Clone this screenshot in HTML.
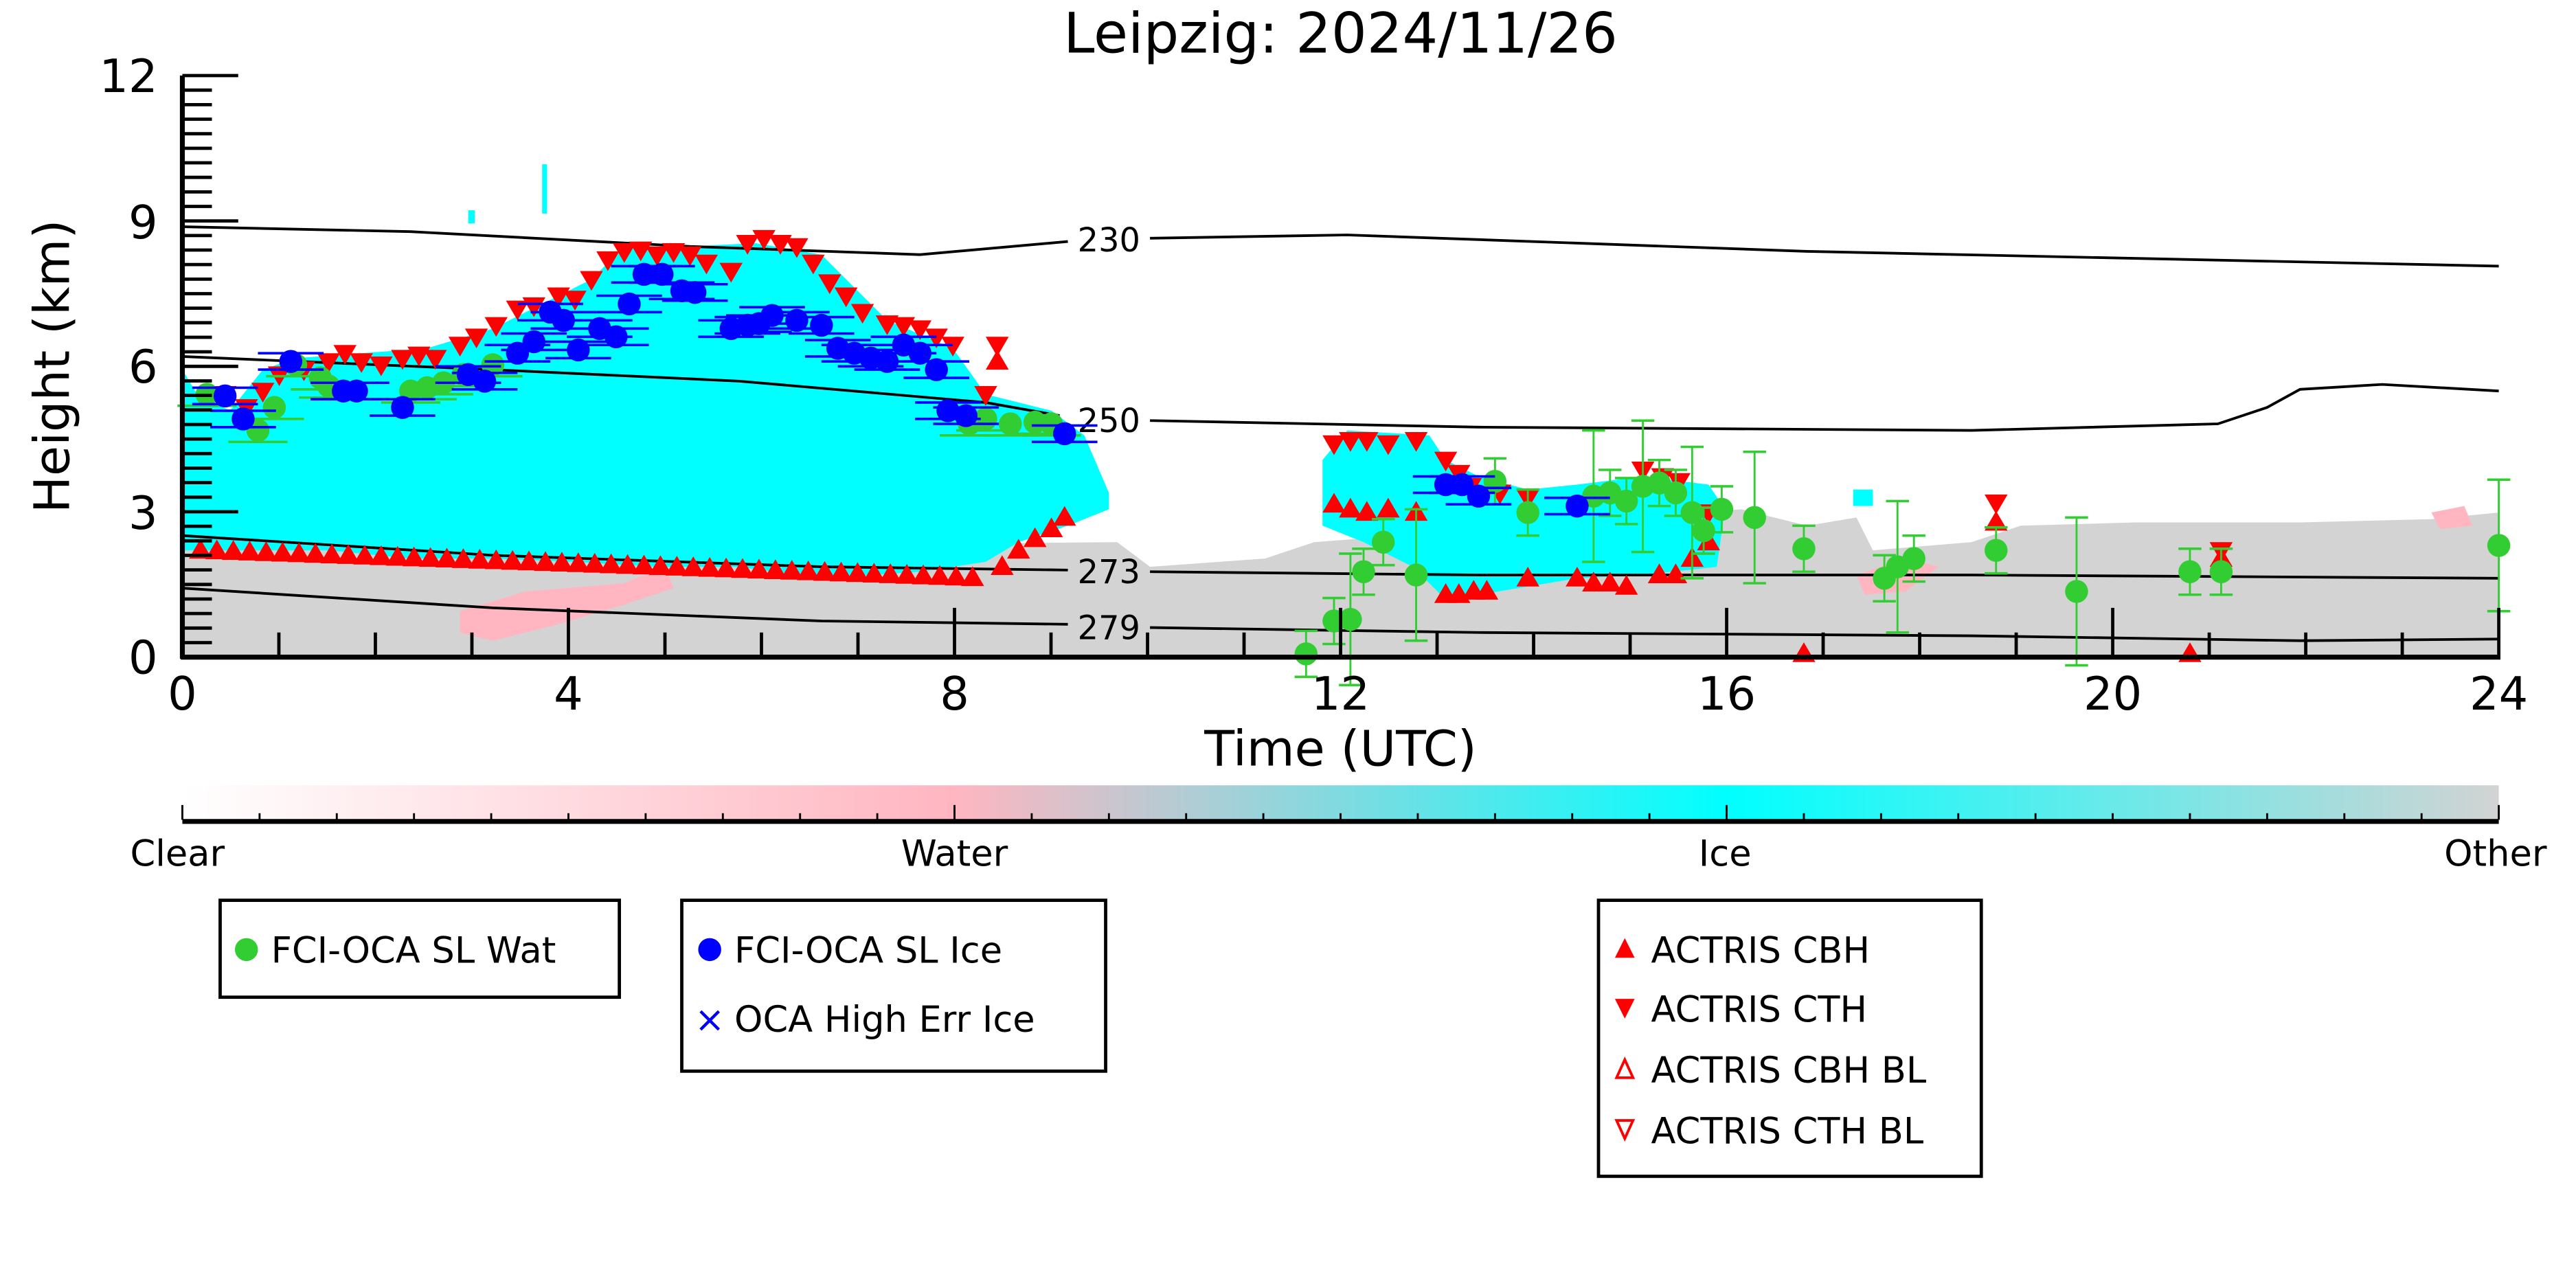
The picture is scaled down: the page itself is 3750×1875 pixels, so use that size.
<!DOCTYPE html>
<html><head><meta charset="utf-8"><style>
html,body{margin:0;padding:0;background:#fff;width:3750px;height:1875px;overflow:hidden}
svg text{font-family:"DejaVu Sans","Liberation Sans",sans-serif}
</style></head><body>
<svg id="s" width="3750" height="1875" viewBox="0 0 1568 784" xmlns="http://www.w3.org/2000/svg">
<defs>
<linearGradient id="cb" x1="0" x2="1" y1="0" y2="0">
<stop offset="0" stop-color="#ffffff"/>
<stop offset="0.333" stop-color="#ffb6c1"/>
<stop offset="0.667" stop-color="#00ffff"/>
<stop offset="1" stop-color="#d3d3d3"/>
</linearGradient>
</defs>
<rect width="1568" height="784" fill="#fff"/>
<text x="816" y="32" font-size="34" text-anchor="middle">Leipzig: 2024/11/26</text>
<polygon fill="#d3d3d3" points="111,335 680,330 700,345 770,340 800,330 1060,310 1100,320 1130,315 1140,335 1200,330 1230,320 1300,318 1400,318 1480,316 1521,312 1521,400 111,400"/>
<polygon fill="#ffb6c1" points="280,372 320,360 380,355 405,345 410,358 380,368 340,380 300,390 280,385"/>
<polygon fill="#ffb6c1" points="1130,350 1160,340 1180,345 1160,360 1135,362"/>
<polygon fill="#ffb6c1" points="870,330 900,330 905,350 880,355"/>
<polygon fill="#ffb6c1" points="1480,312 1500,308 1505,320 1485,322"/>
<polygon fill="#00ffff" points="111,225 120,240 140,250 160,225 180,218 220,215 260,212 300,200 330,185 360,170 380,150 420,150 460,148 500,155 540,195 580,212 600,240 640,250 660,265 675,300 675,310 650,320 620,330 600,342 560,348 500,352 450,345 400,345 350,342 300,340 250,340 200,335 150,335 111,335"/>
<polygon fill="#00ffff" points="805,280 820,262 870,265 880,280 900,290 930,298 960,295 1000,290 1040,295 1050,310 1045,345 1000,350 960,352 900,362 880,365 860,345 830,330 805,320"/>
<rect x="1128" y="298" width="12" height="10" fill="#00ffff"/>
<rect x="330" y="100" width="3" height="30" fill="#00ffff"/>
<rect x="285" y="128" width="4" height="8" fill="#00ffff"/>
<g fill="none" stroke="#000" stroke-width="1.6">
<polyline points="111,138 250,141 420,150 560,155 650,147"/>
<polyline points="700,145 820,143 1100,153 1521,162"/>
<polyline points="111,217 300,225 450,232 600,245 645,253"/>
<polyline points="700,256 900,260 1200,262 1350,258 1380,248 1400,237 1450,234 1521,238"/>
<polyline points="111,326 300,338 500,345 650,347"/>
<polyline points="700,348 900,350 1200,350 1521,352"/>
<polyline points="111,358 300,370 500,378 650,380"/>
<polyline points="700,382 900,385 1200,387 1400,390 1521,389"/>
</g>
<g font-size="20" text-anchor="middle">
<text x="675" y="153">230</text><text x="675" y="263">250</text>
<text x="675" y="355">273</text><text x="675" y="389">279</text>
</g>
<g id="m"></g>
<g stroke="#000">
<line x1="111" y1="46" x2="111" y2="401" stroke-width="3"/>
<line x1="110" y1="400" x2="1522" y2="400" stroke-width="3"/>
<g id="ticks" stroke-width="2"></g>
</g>
<g font-size="28" text-anchor="end">
<text x="96" y="56">12</text><text x="96" y="145">9</text><text x="96" y="233">6</text><text x="96" y="322">3</text><text x="96" y="410">0</text>
</g>
<g font-size="28" text-anchor="middle">
<text x="111" y="432">0</text><text x="346" y="432">4</text><text x="581" y="432">8</text><text x="816" y="432">12</text><text x="1051" y="432">16</text><text x="1286" y="432">20</text><text x="1521" y="432">24</text>
</g>
<text x="816" y="466" font-size="30" text-anchor="middle">Time (UTC)</text>
<text transform="translate(42,223) rotate(-90)" font-size="30" text-anchor="middle">Height (km)</text>
<rect x="111" y="478" width="1410" height="21" fill="url(#cb)"/>
<line x1="111" y1="500" x2="1521" y2="500" stroke="#000" stroke-width="3"/>
<g id="cbt" stroke="#000" stroke-width="1.2"></g>
<g font-size="22" text-anchor="middle">
<text x="108" y="527">Clear</text><text x="581" y="527">Water</text><text x="1050" y="527">Ice</text><text x="1519" y="527">Other</text>
</g>
<g fill="#fff" stroke="#000" stroke-width="2">
<rect x="134" y="548" width="243" height="59"/>
<rect x="415" y="548" width="258" height="104"/>
<rect x="973" y="548" width="233" height="168"/>
</g>
<g font-size="22">
<circle cx="150" cy="578" r="7" fill="#32cd32"/><text x="165" y="586">FCI-OCA SL Wat</text>
<circle cx="432" cy="578" r="7" fill="#0000ff"/><text x="447" y="586">FCI-OCA SL Ice</text>
<text x="432" y="628" fill="#0000ff" text-anchor="middle" font-size="22">×</text><text x="447" y="628">OCA High Err Ice</text>
<polygon points="989,571 995,583 983,583" fill="#f00"/><text x="1005" y="586">ACTRIS CBH</text>
<polygon points="983,608 995,608 989,620" fill="#f00"/><text x="1005" y="622">ACTRIS CTH</text>
<polygon points="989,645 994,656 984,656" fill="none" stroke="#f00" stroke-width="1.6"/><text x="1005" y="659">ACTRIS CBH BL</text>
<polygon points="984,682 994,682 989,693" fill="none" stroke="#f00" stroke-width="1.6"/><text x="1005" y="696">ACTRIS CTH BL</text>
</g>
</svg>
<script>
(function(){
var NS="http://www.w3.org/2000/svg";
function el(p,t,a){var e=document.createElementNS(NS,t);for(var k in a)e.setAttribute(k,a[k]);p.appendChild(e);return e;}
var T=document.getElementById("ticks");
for(var i=0;i<=40;i++){var y=400-i*8.85;var maj=(i%10==0);el(T,"line",{x1:111,x2:111+(maj?34:18),y1:y,y2:y});}
for(var h=1;h<=24;h++){var x=111+h*58.75;var maj=(h%4==0);el(T,"line",{x1:x,x2:x,y1:400,y2:400-(maj?30:15)});}
var C=document.getElementById("cbt");
for(var i=0;i<=30;i++){var x=111+i*47;var maj=(i%10==0);el(C,"line",{x1:x,x2:x,y1:499,y2:maj?490:495});}
var M=document.getElementById("m");
function up(x,y){el(M,"polygon",{points:(x)+","+(y-7)+" "+(x+7)+","+(y+5)+" "+(x-7)+","+(y+5),fill:"#f00"});}
function dn(x,y){el(M,"polygon",{points:(x-7)+","+(y-5)+" "+(x+7)+","+(y-5)+" "+(x)+","+(y+7),fill:"#f00"});}
for(var x=122;x<=600;x+=10){var y=335+17*(x-120)/480;up(x,y);}
[[610,345],[620,335],[630,328],[640,322],[648,315]].forEach(function(p){up(p[0],p[1]);});
var TOPS=[[137,240],[150,248],[160,238],[170,228],[185,225],[200,220],[210,215],[220,220],[232,222],[245,218],[255,216],[265,218],[280,210],[290,205],[302,198],[315,188],[325,186],[340,180],[350,182],[360,170],[370,158],[380,153],[390,152],[400,155],[410,153],[420,155],[430,160],[445,165],[455,148],[465,145],[475,148],[485,150],[495,160],[505,172],[515,180],[525,190],[540,197],[550,198],[560,200],[570,205],[580,210],[607,210],[600,240]];
TOPS.forEach(function(p){dn(p[0],p[1]);});
up(607,220);
[[812,270],[822,268],[832,268],[845,270],[862,268],[880,280],[888,288],[895,296],[913,300],[930,303],[1000,286],[1012,290],[1022,293],[1040,312],[1215,306],[1352,335]].forEach(function(p){dn(p[0],p[1]);});
[[812,307],[822,310],[832,312],[845,310],[862,312],[880,362],[888,362],[897,360],[905,360],[930,352],[960,352],[970,355],[980,355],[990,357],[1010,350],[1020,350],[1030,340],[1040,330],[1215,318],[1352,340],[1098,398],[1333,398]].forEach(function(p){up(p[0],p[1]);});
var G=[[126,240],[157,262],[167,248],[180,222],[195,230],[200,235],[250,238],[260,236],[270,233],[282,228],[300,222],[590,258],[600,255],[615,258],[630,257],[640,258],[795,398],[812,378],[822,377],[830,348],[842,330],[862,350],[910,293],[930,312],[970,302],[980,300],[990,305],[1000,296],[1010,294],[1020,300],[1030,312],[1037,323],[1048,310],[1068,315],[1098,334],[1147,352],[1155,345],[1165,340],[1215,335],[1264,360],[1333,348],[1352,348],[1521,332]];
G.forEach(function(p,i){
 var e=(p[0]>790)?(i%3==0?40:14):0;
 if(p[0]>1260&&p[0]<1270)e=45;
 if(e){el(M,"line",{x1:p[0],x2:p[0],y1:p[1]-e,y2:p[1]+e,stroke:"#32cd32","stroke-width":1.2});
  el(M,"line",{x1:p[0]-7,x2:p[0]+7,y1:p[1]-e,y2:p[1]-e,stroke:"#32cd32","stroke-width":1.5});
  el(M,"line",{x1:p[0]-7,x2:p[0]+7,y1:p[1]+e,y2:p[1]+e,stroke:"#32cd32","stroke-width":1.5});}
 else el(M,"line",{x1:p[0]-18,x2:p[0]+18,y1:p[1]+7,y2:p[1]+7,stroke:"#32cd32","stroke-width":1.5});
 el(M,"circle",{cx:p[0],cy:p[1],r:7,fill:"#32cd32"});});
var B=[[137,241],[148,255],[177,220],[209,238],[217,238],[245,248],[285,228],[295,232],[315,215],[325,208],[335,190],[343,195],[352,213],[365,200],[375,205],[383,185],[392,167],[403,167],[415,177],[423,178],[445,200],[455,198],[462,197],[470,192],[485,195],[500,198],[510,212],[520,215],[530,218],[540,220],[550,210],[560,215],[570,225],[577,250],[588,253],[648,264],[880,295],[890,295],[900,302],[960,308]];
B.forEach(function(p){el(M,"line",{x1:p[0]-20,x2:p[0]+20,y1:p[1]-5,y2:p[1]-5,stroke:"#00f","stroke-width":1.5});
 el(M,"line",{x1:p[0]-20,x2:p[0]+20,y1:p[1]+5,y2:p[1]+5,stroke:"#00f","stroke-width":1.5});
 el(M,"circle",{cx:p[0],cy:p[1],r:7,fill:"#0000ff"});});
})();
</script>
</body></html>
